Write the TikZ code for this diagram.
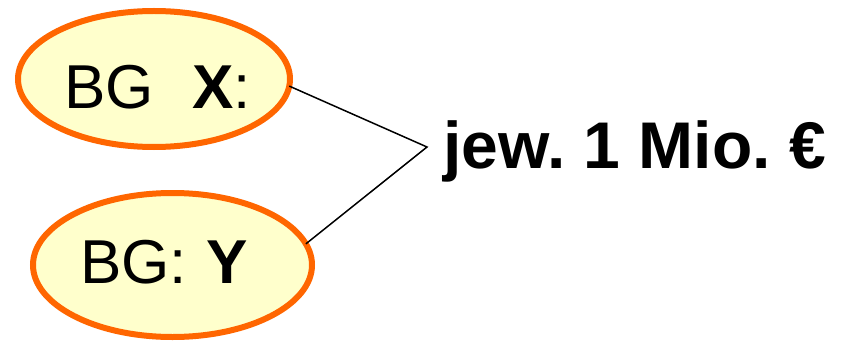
\documentclass[tikz,border=0pt]{standalone}
\usepackage{fontspec}
\setmainfont{Liberation Sans}
\usetikzlibrary{shapes.geometric}
\definecolor{bgfill}{HTML}{FFFFCC}
\definecolor{bgline}{HTML}{FF6600}
\frenchspacing
\begin{document}
\begin{tikzpicture}[x=1pt,y=-1pt,
  bgoval/.style={ellipse,draw=bgline,fill=bgfill,line width=6pt,inner sep=0pt,outer sep=0pt},
  bgtext/.style={anchor=base west,inner sep=0pt,font=\fontsize{62}{74}\selectfont},
  link/.style={draw=black,line width=1.5pt}]
  \useasboundingbox (0,0) rectangle (850,342);
  % the two ovals
  \node[bgoval,minimum width=272pt,minimum height=136pt] (x) at (154,79) {};
  \node[bgoval,minimum width=279pt,minimum height=144pt] (y) at (172.5,265) {};
  % their labels
  \node[bgtext] (xl) at (64,108) {BG\ \ \kern4pt\textbf{X}:};
  \node[bgtext] (yl) at (80,283) {BG:\ \kern2pt\textbf{Y}};
  % joint of the bracket lines
  \coordinate (v) at (427,147);
  \draw[link] (x.-3) -- (v) -- (y.9);
  % amount
  \node[anchor=base west,inner sep=0pt,font=\fontsize{66}{79}\selectfont\bfseries] (amt) at (443,168) {jew. 1 Mio. €};
\end{tikzpicture}
\end{document}
